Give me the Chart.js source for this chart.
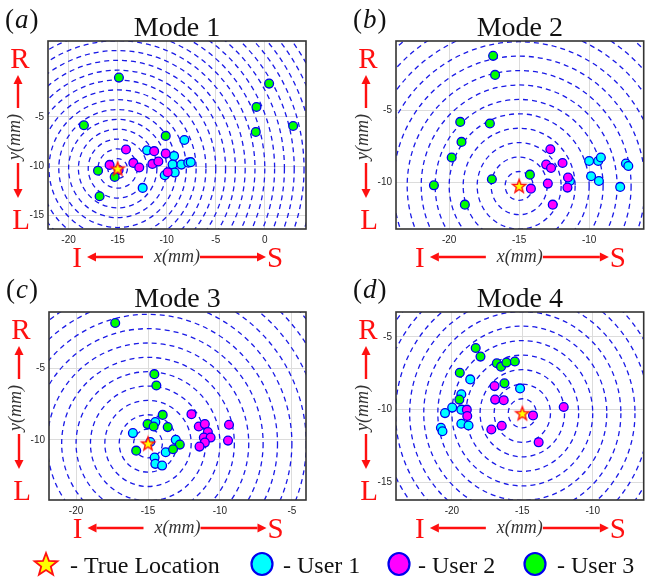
<!DOCTYPE html>
<html>
<head>
<meta charset="utf-8">
<script src="https://cdn.jsdelivr.net/npm/chart.js@4.4.1/dist/chart.umd.min.js"></script>
<style>
  body { margin: 0; background: #fff; }
  #fig { position: relative; width: 652px; height: 582px; }
  #fig canvas { position: absolute; }
</style>
</head>
<body>
<div id="fig">
  <canvas id="pa" width="326" height="270" style="left:0;top:0"></canvas>
  <canvas id="pb" width="326" height="270" style="left:326px;top:0"></canvas>
  <canvas id="pc" width="326" height="270" style="left:0;top:270px"></canvas>
  <canvas id="pd" width="326" height="270" style="left:326px;top:270px"></canvas>
  <canvas id="leg" width="652" height="46" style="left:0;top:536px"></canvas>
</div>
<script>
// true source location (star) and ring radii in mm
const trueX = -15;
const trueY = -10.25;
const ringRadii = [1, 2, 3, 4, 5, 6, 7, 8, 9, 10, 11, 12, 13, 14, 15, 16, 17, 18, 19, 20, 21, 22, 23, 24, 25, 26];

const modeTitles = ['Mode 1', 'Mode 2', 'Mode 3', 'Mode 4'];
const panelLetters = ['a', 'b', 'c', 'd'];
const legendLabels = ['- True Location', '- User 1', '- User 2', '- User 3'];

// Mode 1
const user1A = [[-8.2, -7.35], [-12.0, -8.4], [-9.25, -8.97], [-9.4, -9.85], [-8.5, -9.85], [-7.8, -9.65], [-7.55, -9.6], [-9.18, -10.66], [-10.2, -10.93], [-12.45, -12.22]];
const user2A = [[-14.15, -8.32], [-11.28, -8.48], [-10.1, -8.73], [-13.4, -9.68], [-12.8, -10.15], [-11.46, -9.78], [-10.85, -9.54], [-15.82, -9.88], [-9.9, -10.63], [-14.9, -10.4]];
const user3A = [[-14.87, -1.0], [0.44, -1.61], [-0.85, -3.99], [-18.44, -5.85], [2.89, -5.92], [-0.92, -6.53], [-10.1, -6.93], [-17.0, -10.47], [-15.3, -11.1], [-16.84, -13.07]];
const xTicksA = [-20, -15, -10, -5, 0];
const yTicksA = [-5, -10, -15];
const xLimA = [-22.1, 4.2];
const yLimA = [-16.4, 2.72];

// Mode 2
const user1B = [[-10.0, -8.52], [-9.35, -8.52], [-9.16, -8.28], [-7.37, -8.7], [-7.2, -8.87], [-9.86, -9.58], [-9.3, -9.91], [-7.78, -10.32], [-11.37, -9.91]];
const user2B = [[-12.77, -7.71], [-13.07, -8.77], [-12.72, -9.01], [-11.9, -8.66], [-11.51, -9.67], [-12.95, -10.09], [-14.16, -10.44], [-11.55, -10.37], [-12.6, -11.55]];
const user3B = [[-16.86, -1.23], [-16.72, -2.55], [-19.21, -5.81], [-17.09, -5.92], [-19.12, -7.2], [-19.82, -8.28], [-14.23, -9.47], [-16.95, -9.79], [-21.09, -10.21], [-18.88, -11.55]];
const xTicksB = [-20, -15, -10];
const yTicksB = [-5, -10];
const xLimB = [-23.8, -6.1];
const yLimB = [-13.24, -0.2];

// Mode 3
const user1C = [[-14.49, -8.76], [-16.05, -9.53], [-13.07, -10.0], [-14.84, -10.15], [-13.77, -10.86], [-14.54, -11.23], [-14.49, -11.67], [-14.02, -11.79]];
const user2C = [[-11.98, -8.21], [-11.47, -9.07], [-11.05, -8.9], [-10.84, -9.46], [-11.12, -9.84], [-10.65, -9.84], [-11.05, -10.19], [-11.42, -10.47], [-9.37, -8.95], [-9.44, -10.05]];
const user3C = [[-17.28, -1.86], [-14.56, -5.42], [-14.42, -6.21], [-13.98, -8.26], [-15.03, -8.9], [-14.61, -9.07], [-13.63, -9.11], [-15.82, -10.75], [-12.79, -10.33], [-13.26, -10.65]];
const xTicksC = [-20, -15, -10, -5];
const yTicksC = [-5, -10];
const xLimC = [-21.88, -4.02];
const yLimC = [-14.19, -1.09];

// Mode 4
const user1D = [[-18.7, -7.92], [-19.33, -8.94], [-15.16, -8.54], [-19.98, -9.86], [-20.49, -10.24], [-19.33, -10.0], [-19.33, -10.97], [-18.82, -11.09], [-20.78, -11.25], [-20.67, -11.49]];
const user2D = [[-16.97, -8.38], [-16.93, -9.31], [-16.32, -9.35], [-18.94, -10.0], [-18.91, -10.44], [-14.24, -10.4], [-17.2, -11.37], [-16.46, -11.11], [-12.06, -9.82], [-13.84, -12.25]];
const user3D = [[-18.31, -5.76], [-17.97, -6.35], [-19.44, -7.46], [-16.81, -6.81], [-16.51, -7.04], [-16.13, -6.76], [-15.53, -6.69], [-16.27, -8.19], [-19.47, -9.31]];
const xTicksD = [-20, -15, -10];
const yTicksD = [-5, -10, -15];
const xLimD = [-23.97, -6.38];
const yLimD = [-16.22, -3.28];

const RED = '#ff1010';
const SERIF = '"Liberation Serif", "Times New Roman", serif';

function starPath(ctx, cx, cy, R, r) {
  ctx.beginPath();
  for (let i = 0; i < 10; i++) {
    const ang = -Math.PI / 2 + i * Math.PI / 5;
    const rad = i % 2 ? r : R;
    ctx.lineTo(cx + rad * Math.cos(ang), cy + rad * Math.sin(ang));
  }
  ctx.closePath();
}

function drawStar(ctx, cx, cy, R, lw) {
  starPath(ctx, cx, cy, R, R * 0.42);
  ctx.fillStyle = '#ffff00';
  ctx.fill();
  ctx.lineWidth = lw;
  ctx.strokeStyle = RED;
  ctx.lineJoin = 'miter';
  ctx.stroke();
}

// star marker used as pointStyle
const starImg = document.createElement('canvas');
starImg.width = 18; starImg.height = 18;
drawStar(starImg.getContext('2d'), 9, 9.6, 7, 1.4);

function arrow(ctx, x1, y1, x2, y2) {
  // line from (x1,y1) to tip at (x2,y2)
  const ang = Math.atan2(y2 - y1, x2 - x1);
  const hl = 9, hw = 4.5;
  ctx.strokeStyle = RED; ctx.fillStyle = RED; ctx.lineWidth = 2.4;
  ctx.beginPath();
  ctx.moveTo(x1, y1);
  ctx.lineTo(x2 - hl * Math.cos(ang), y2 - hl * Math.sin(ang));
  ctx.stroke();
  ctx.beginPath();
  ctx.moveTo(x2, y2);
  ctx.lineTo(x2 - hl * Math.cos(ang) + hw * Math.sin(ang), y2 - hl * Math.sin(ang) - hw * Math.cos(ang));
  ctx.lineTo(x2 - hl * Math.cos(ang) - hw * Math.sin(ang), y2 - hl * Math.sin(ang) + hw * Math.cos(ang));
  ctx.closePath();
  ctx.fill();
}

// dashed concentric rings around the true location, below the points
const ringsPlugin = {
  id: 'rings',
  beforeDatasetsDraw(chart) {
    const {ctx, chartArea: a, scales: {x, y}} = chart;
    const cx = x.getPixelForValue(trueX), cy = y.getPixelForValue(trueY);
    ctx.save();
    ctx.beginPath();
    ctx.rect(a.left, a.top, a.right - a.left, a.bottom - a.top);
    ctx.clip();
    ctx.strokeStyle = '#1a1ae6';
    ctx.lineWidth = 1.3;
    ctx.setLineDash([5, 4]);
    ringRadii.forEach(r => {
      const rx = x.getPixelForValue(trueX + r) - cx;
      const ry = cy - y.getPixelForValue(trueY + r);
      ctx.beginPath();
      ctx.ellipse(cx, cy, rx, ry, 0, 0, Math.PI * 2);
      ctx.stroke();
    });
    ctx.restore();
  }
};

// box, titles, panel letter and the R/L/I/S direction arrows
const decorPlugin = {
  id: 'decor',
  afterDraw(chart, args, opts) {
    const {ctx, chartArea: a} = chart;
    const cx = (a.left + a.right) / 2;
    const cyMid = a.top + 96;
    ctx.save();
    ctx.strokeStyle = '#333333';
    ctx.lineWidth = 1.6;
    ctx.strokeRect(a.left, a.top, a.right - a.left, a.bottom - a.top);

    // title
    ctx.fillStyle = '#111';
    ctx.font = '28px ' + SERIF;
    ctx.textAlign = 'center';
    ctx.textBaseline = 'alphabetic';
    ctx.fillText(opts.title, cx, a.top - 5);

    // panel letter (x)
    let lx = a.left - 43;
    ctx.textAlign = 'left';
    ctx.font = '27px ' + SERIF;
    ctx.fillText('(', lx, 28);
    lx += ctx.measureText('(').width + 1;
    ctx.font = 'italic 27px ' + SERIF;
    ctx.fillText(opts.letter, lx, 28);
    lx += ctx.measureText(opts.letter).width + 1;
    ctx.font = '27px ' + SERIF;
    ctx.fillText(')', lx, 28);

    // axis labels
    ctx.fillStyle = '#333';
    ctx.font = 'italic 18px ' + SERIF;
    ctx.textAlign = 'center';
    ctx.textBaseline = 'middle';
    ctx.fillText('x(mm)', cx, a.bottom + 28);
    ctx.save();
    ctx.translate(a.left - 33, cyMid);
    ctx.rotate(-Math.PI / 2);
    ctx.fillText('y(mm)', 0, 0);
    ctx.restore();

    // direction letters
    ctx.fillStyle = RED;
    ctx.font = '29px ' + SERIF;
    ctx.textBaseline = 'alphabetic';
    ctx.fillText('R', a.left - 28, a.top + 27);
    ctx.fillText('L', a.left - 27, a.bottom);
    ctx.fillText('I', cx - 100, a.bottom + 38);
    ctx.fillText('S', cx + 98, a.bottom + 38);

    const ax = a.left - 30;
    arrow(ctx, ax, a.top + 67, ax, a.top + 34);
    arrow(ctx, ax, a.top + 122, ax, a.top + 157);
    arrow(ctx, cx - 34, a.bottom + 28, cx - 90, a.bottom + 28);
    arrow(ctx, cx + 23, a.bottom + 28, cx + 89, a.bottom + 28);
    ctx.restore();
  }
};

const toXY = arr => arr.map(p => ({x: p[0], y: p[1]}));

function makePanel(id, idx, u1, u2, u3, xLim, yLim, xTicks, yTicks, box) {
  const el = document.getElementById(id);
  const W = el.width, H = el.height;
  const tickFont = {family: '"Liberation Sans", Arial, sans-serif', size: 10};
  return new Chart(el, {
    type: 'scatter',
    data: {
      datasets: [
        {data: [{x: trueX, y: trueY}], pointStyle: starImg, pointRadius: 7, order: 0},
        {data: toXY(u3), backgroundColor: '#00ff00', order: 1},
        {data: toXY(u2), backgroundColor: '#ff00ff', order: 2},
        {data: toXY(u1), backgroundColor: '#00ffff', order: 3}
      ]
    },
    options: {
      responsive: false,
      animation: false,
      devicePixelRatio: 1,
      layout: {padding: {left: 0, top: box.top, right: W - box.right, bottom: 0}},
      elements: {point: {radius: 4.4, borderColor: '#0000ee', borderWidth: 1.3}},
      plugins: {
        legend: {display: false},
        tooltip: {enabled: false},
        decor: {title: modeTitles[idx], letter: panelLetters[idx]}
      },
      scales: {
        x: {
          type: 'linear', min: xLim[0], max: xLim[1],
          afterFit: s => { s.height = H - box.bottom; },
          afterBuildTicks: s => { s.ticks = xTicks.map(v => ({value: v})); },
          grid: {color: '#dcdcdc', lineWidth: 1, drawTicks: false},
          border: {display: false},
          ticks: {padding: 5, font: tickFont, color: '#262626', maxRotation: 0}
        },
        y: {
          type: 'linear', min: yLim[0], max: yLim[1],
          afterFit: s => { s.width = box.left; },
          afterBuildTicks: s => { s.ticks = yTicks.map(v => ({value: v})); },
          grid: {color: '#dcdcdc', lineWidth: 1, drawTicks: false},
          border: {display: false},
          ticks: {padding: 4, font: tickFont, color: '#262626'}
        }
      }
    },
    plugins: [ringsPlugin, decorPlugin]
  });
}

makePanel('pa', 0, user1A, user2A, user3A, xLimA, yLimA, xTicksA, yTicksA, {left: 48, top: 41, right: 306, bottom: 229});
makePanel('pb', 1, user1B, user2B, user3B, xLimB, yLimB, xTicksB, yTicksB, {left: 70, top: 41, right: 324, bottom: 229});
makePanel('pc', 2, user1C, user2C, user3C, xLimC, yLimC, xTicksC, yTicksC, {left: 49, top: 42, right: 306, bottom: 230});
makePanel('pd', 3, user1D, user2D, user3D, xLimD, yLimD, xTicksD, yTicksD, {left: 70, top: 42, right: 324, bottom: 230});

// shared legend along the bottom
(function drawLegend() {
  const ctx = document.getElementById('leg').getContext('2d');
  const cy = 28;
  drawStar(ctx, 46, cy + 1, 12, 1.8);
  const fills = ['#00ffff', '#ff00ff', '#00ff00'];
  const circleX = [262, 399, 535];
  const textX = [70, 283, 418, 557];
  fills.forEach((f, i) => {
    ctx.beginPath();
    ctx.ellipse(circleX[i], cy, 10.5, 11, 0, 0, Math.PI * 2);
    ctx.fillStyle = f;
    ctx.fill();
    ctx.lineWidth = 2.2;
    ctx.strokeStyle = '#0000ee';
    ctx.stroke();
  });
  ctx.fillStyle = '#111';
  ctx.font = '24px ' + SERIF;
  ctx.textBaseline = 'alphabetic';
  legendLabels.forEach((t, i) => ctx.fillText(t, textX[i], 37));
})();
</script>
</body>
</html>
